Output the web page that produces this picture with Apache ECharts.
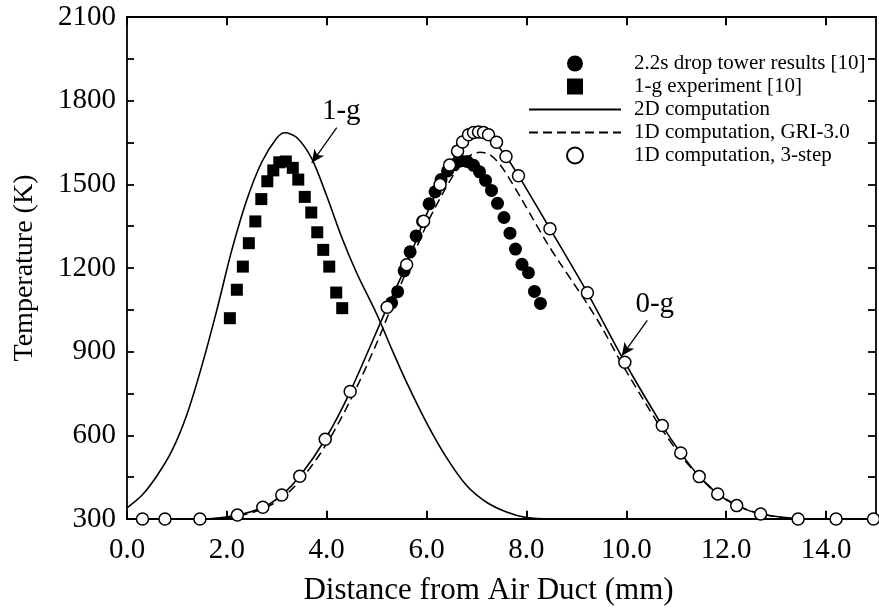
<!DOCTYPE html>
<html>
<head>
<meta charset="utf-8">
<script src="https://cdn.jsdelivr.net/npm/echarts@6/dist/echarts.min.js"></script>
<style>
  html, body { margin: 0; padding: 0; background: #fff; }
  #chart { width: 879px; height: 613px; }
</style>
</head>
<body>
<div id="chart"></div>
<script>
// Legend / series names
const NAME_DROP = '2.2s drop tower results [10]';
const NAME_1G = '1-g experiment [10]';
const NAME_2D = '2D computation';
const NAME_GRI = '1D computation, GRI-3.0';
const NAME_3STEP = '1D computation, 3-step';

// Axis ticks
const xTickValues = [0, 2, 4, 6, 8, 10, 12, 14];
const yTickLabels = [300, 600, 900, 1200, 1500, 1800, 2100];
const X_MIN = 0, X_MAX = 15, T_MIN = 300, T_MAX = 2100;
const X_TICK_LEN_K = 30; // inward x-tick length, in kelvin

// 2.2 s drop tower measurements (0-g)
const dropX = [5.30, 5.42, 5.55, 5.67, 5.79, 5.92, 6.05, 6.17, 6.29, 6.42, 6.55, 6.68,
               6.81, 6.94, 7.06, 7.18, 7.30, 7.42, 7.55, 7.67, 7.78, 7.91, 8.04, 8.16, 8.28];
const dropT = [1075, 1115, 1190, 1258, 1315, 1367, 1430, 1473, 1517, 1548, 1570, 1584,
               1582, 1568, 1545, 1514, 1478, 1432, 1381, 1325, 1268, 1213, 1183, 1116, 1073];

// 1-g experiment
const oneGX = [2.06, 2.20, 2.32, 2.44, 2.57, 2.69, 2.81, 2.93, 3.05, 3.18,
               3.32, 3.43, 3.56, 3.69, 3.81, 3.93, 4.05, 4.19, 4.31];
const oneGT = [1020, 1122, 1205, 1289, 1367, 1447, 1511, 1550, 1579, 1582,
               1559, 1517, 1455, 1399, 1328, 1265, 1205, 1112, 1056];

// 2D computation, 1-g
const comp1gX = [0.0, 0.3, 0.6, 0.9, 1.2, 1.5, 1.8, 2.1, 2.4, 2.7, 3.0, 3.16, 3.4,
                 3.7, 4.0, 4.3, 4.6, 5.0, 5.3, 5.6, 6.0, 6.4, 6.8, 7.2, 7.6, 8.0, 8.5, 15.0];
const comp1gT = [340, 385, 455, 545, 675, 850, 1050, 1265, 1445, 1580, 1666, 1685, 1668,
                 1592, 1458, 1310, 1182, 1035, 910, 790, 645, 520, 420, 360, 325, 305, 300, 300];

// 2D computation, 0-g
const comp0gX = [0.0, 1.50, 2.21, 2.72, 3.10, 3.46, 3.97, 4.47, 5.21, 5.60, 5.94, 6.27,
                 6.62, 6.84, 7.04, 7.24, 7.59, 7.84, 8.47, 9.22, 9.97, 10.72, 11.09,
                 11.46, 11.83, 12.21, 12.69, 13.44, 14.20, 15.0];
const comp0gT = [300, 300, 314, 342, 386, 453, 586, 757, 1059, 1212, 1368, 1499,
                 1619, 1672, 1686, 1676, 1600, 1531, 1341, 1111, 862, 635, 537,
                 452, 390, 348, 318, 302, 300, 300];

// 1D computation, GRI-3.0
const griX = [0.0, 1.50, 2.20, 2.70, 3.10, 3.50, 4.00, 4.50, 5.00, 5.25, 5.60, 6.00,
              6.30, 6.60, 6.87, 7.07, 7.27, 7.47, 7.67, 7.87, 8.14, 8.41, 8.67, 8.94,
              9.21, 9.50, 9.90, 10.30, 10.70, 11.10, 11.50, 11.90, 12.30, 12.70, 13.20,
              13.60, 15.0];
const griT = [300, 300, 310, 335, 375, 445, 570, 735, 930, 1040, 1190, 1355,
              1460, 1550, 1603, 1615, 1606, 1571, 1517, 1457, 1373, 1290, 1218, 1146,
              1074, 990, 860, 740, 625, 525, 445, 383, 343, 318, 303,
              300, 300];

// 1D computation, 3-step
const step3X = [0.31, 0.76, 1.46, 2.21, 2.72, 3.10, 3.46, 3.97, 4.47, 5.21, 5.60, 5.94,
                6.27, 6.46, 6.62, 6.72, 6.84, 6.94, 7.04, 7.14, 7.24, 7.40, 7.59, 7.84,
                8.47, 9.22, 9.97, 10.72, 11.09, 11.46, 11.83, 12.21, 12.69, 13.44, 14.20, 14.95];
const step3T = [300, 300, 300, 314, 342, 386, 453, 586, 757, 1059, 1212, 1368,
                1499, 1569, 1619, 1652, 1678, 1686, 1688, 1686, 1678, 1651, 1600, 1531,
                1341, 1111, 862, 635, 537, 452, 390, 348, 318, 300, 300, 300];

// Annotation anchors in data units: text position, arrow start, arrow tip
const label1g = { text: '1-g', at: [4.29, 1761], from: [4.20, 1703], to: [3.70, 1577] };
const label0g = { text: '0-g', at: [10.57, 1068], from: [10.42, 1012], to: [9.91, 885] };

const zip = (xs, ys) => xs.map((x, i) => [x, ys[i]]);

const FONT = 'Liberation Serif';
const INK = '#000';
const SQUARE = 'path://M0,0L10,0L10,10L0,10Z';

const chart = echarts.init(document.getElementById('chart'), null, { renderer: 'canvas' });

const annotation = (a) => ({
  silent: true,
  symbol: ['none', 'arrow'],
  symbolSize: [9, 13],
  lineStyle: { color: INK, width: 1.3, type: 'solid' },
  label: { show: false },
  data: [[{ coord: a.from }, { coord: a.to }]]
});

const annotationText = (a) => ({
  silent: true,
  symbol: 'circle',
  symbolSize: 0,
  label: {
    show: true, position: 'inside', formatter: a.text,
    color: INK, fontFamily: FONT, fontSize: 29
  },
  data: [{ coord: a.at }]
});

// Inward tick marks along the bottom and top frame at every labelled distance
const frameTicks = {
  silent: true,
  symbol: ['none', 'none'],
  lineStyle: { color: INK, width: 1.8, type: 'solid' },
  label: { show: false },
  data: xTickValues.filter((v) => v > X_MIN).flatMap((v) => [
    [{ coord: [v, T_MIN] }, { coord: [v, T_MIN + X_TICK_LEN_K] }],
    [{ coord: [v, T_MAX] }, { coord: [v, T_MAX - X_TICK_LEN_K] }]
  ])
};

const tickStyle = { show: true, inside: true, length: 8, lineStyle: { color: INK, width: 1.8 } };

// Top and right frame axes: line plus inward ticks, no labels
const frameAxis = (extra, tickValues) => Object.assign({
  type: 'value',
  axisLine: { show: true, onZero: false, lineStyle: { color: INK, width: 1.8 } },
  axisTick: Object.assign({}, tickStyle, tickValues ? { customValues: tickValues } : {}),
  axisLabel: { show: false },
  splitLine: { show: false }
}, extra);

// Line entries in the legend show only their stroke
const lineOnly = { color: 'rgba(0,0,0,0)', borderWidth: 0, opacity: 0 };

chart.setOption({
  animation: false,
  backgroundColor: '#fff',
  grid: { left: 127, right: 3, top: 17, bottom: 94, containLabel: false },
  legend: {
    left: 523, top: 48, orient: 'vertical',
    itemWidth: 92, itemHeight: 16, itemGap: 2,
    symbolKeepAspect: true,
    textStyle: { fontFamily: FONT, fontSize: 21, color: INK, padding: [0, 0, 0, 8] },
    data: [
      { name: NAME_DROP },
      { name: NAME_1G, icon: SQUARE },
      { name: NAME_2D, itemStyle: lineOnly },
      { name: NAME_GRI, itemStyle: lineOnly },
      { name: NAME_3STEP }
    ],
    selectedMode: false
  },
  xAxis: [
    {
      type: 'value', min: X_MIN, max: X_MAX, interval: 2, position: 'bottom',
      name: 'Distance from Air Duct (mm)', nameLocation: 'middle', nameGap: 56,
      nameTextStyle: { fontFamily: FONT, fontSize: 31, color: INK, padding: [0, 26, 0, 0] },
      axisLine: { show: true, onZero: false, lineStyle: { color: INK, width: 1.8 } },
      axisTick: Object.assign({}, tickStyle, { customValues: xTickValues }),
      axisLabel: { show: true, fontFamily: FONT, fontSize: 29, color: INK, margin: 17,
                   customValues: xTickValues,
                   formatter: (v) => v.toFixed(1) },
      splitLine: { show: false }
    },
    frameAxis({ min: X_MIN, max: X_MAX, interval: 2, position: 'top' }, xTickValues)
  ],
  yAxis: [
    {
      type: 'value', min: T_MIN, max: T_MAX, interval: 150, position: 'left',
      name: 'Temperature (K)', nameLocation: 'middle', nameGap: 88,
      nameTextStyle: { fontFamily: FONT, fontSize: 28, color: INK },
      axisLine: { show: true, onZero: false, lineStyle: { color: INK, width: 1.8 } },
      axisTick: Object.assign({}, tickStyle, { length: 7 }),
      axisLabel: { show: true, fontFamily: FONT, fontSize: 29, color: INK, margin: 11,
                   customValues: yTickLabels, formatter: (v) => String(v) },
      splitLine: { show: false }
    },
    frameAxis({ min: T_MIN, max: T_MAX, interval: 150, position: 'right' })
  ],
  series: [
    {
      name: NAME_2D, type: 'line', smooth: 0.3, showSymbol: false, symbol: 'none',
      data: zip(comp1gX, comp1gT), z: 2,
      lineStyle: { color: INK, width: 1.6, type: 'solid' },
      markLine: annotation(label1g), markPoint: annotationText(label1g)
    },
    {
      name: NAME_2D, type: 'line', smooth: 0.3, showSymbol: false, symbol: 'none',
      data: zip(comp0gX, comp0gT), z: 2,
      lineStyle: { color: INK, width: 1.6, type: 'solid' },
      markLine: annotation(label0g), markPoint: annotationText(label0g)
    },
    {
      name: NAME_GRI, type: 'line', smooth: 0.3, showSymbol: false, symbol: 'none',
      data: zip(griX, griT), z: 2,
      lineStyle: { color: INK, width: 1.5, type: [9, 5] },
      markLine: frameTicks
    },
    {
      name: NAME_DROP, type: 'scatter', symbol: 'circle', symbolSize: 13,
      data: zip(dropX, dropT), z: 3,
      itemStyle: { color: INK, opacity: 1 }
    },
    {
      name: NAME_1G, type: 'scatter', symbol: SQUARE, symbolSize: 12, symbolKeepAspect: true,
      data: zip(oneGX, oneGT), z: 3,
      itemStyle: { color: INK, opacity: 1 }
    },
    {
      name: NAME_3STEP, type: 'scatter', symbol: 'circle', symbolSize: 12,
      data: zip(step3X, step3T), z: 4,
      itemStyle: { color: '#fff', borderColor: INK, borderWidth: 1.5, opacity: 1 }
    }
  ]
});
</script>
</body>
</html>
